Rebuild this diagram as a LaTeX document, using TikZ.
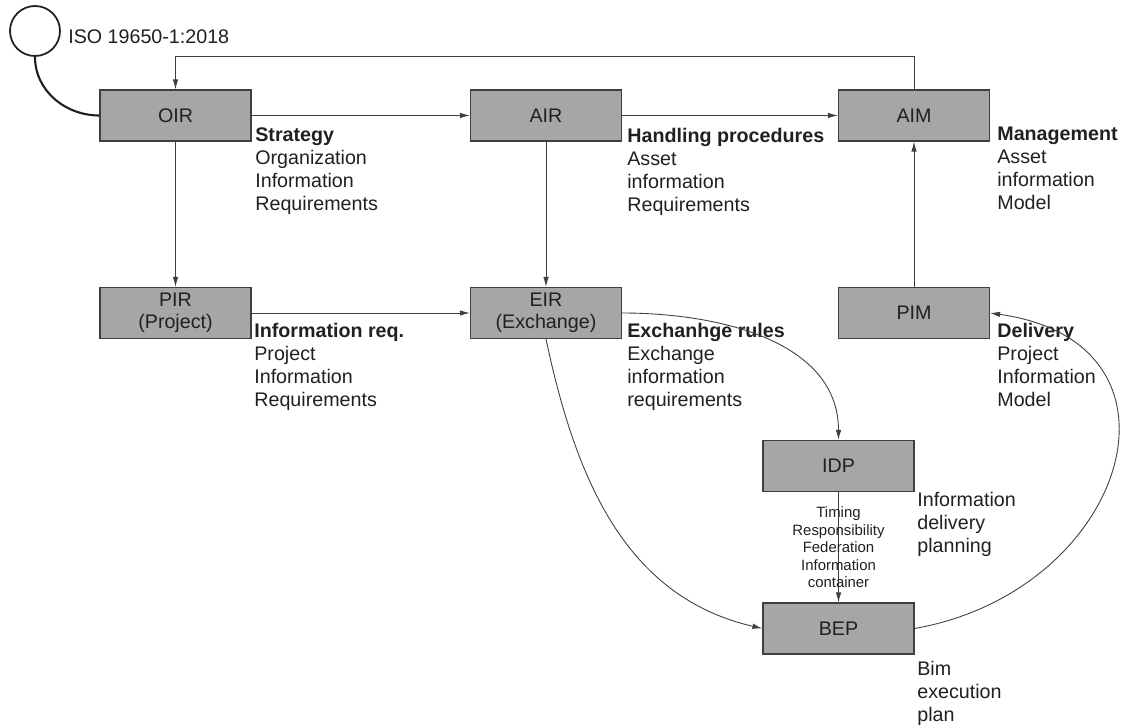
\documentclass[tikz,border=0pt]{standalone}
\usepackage{fontspec}
\setmainfont{Liberation Sans}
\usepackage{tikz}
\usetikzlibrary{arrows.meta, positioning}
\usepackage{xcolor}
\definecolor{boxgray}{HTML}{A6A6A6}
\definecolor{edge}{HTML}{3F3F3F}
\definecolor{ink}{HTML}{231F20}

\begin{document}
\begin{tikzpicture}[
    box/.style={draw=edge, line width=0.7pt, fill=boxgray, minimum width=3.02cm, minimum height=1.02cm, inner sep=0pt, align=center, font=\fontsize{11.2}{12.5}\selectfont, text=ink},
    arrow/.style={-{Latex[length=2mm,width=1.1mm]}, line width=0.5pt, draw=edge},
    lbl/.style={anchor=north west, inner sep=0pt, align=left, font=\fontsize{11.2}{13.1}\selectfont, text=ink},
    tinylbl/.style={inner sep=0pt, align=center, font=\fontsize{8.5}{10}\selectfont, text=ink}
]
    \useasboundingbox (0,0) rectangle (22.54,-14.5);

    % standard marker
    \node[draw=ink, line width=1pt, circle, minimum size=1cm, inner sep=0pt] (iso) at (0.7,-0.62) {};
    \node[anchor=west, inner sep=0pt, font=\fontsize{11.2}{13}\selectfont, text=ink] (isotxt) at (1.36,-0.74) {ISO 19650-1:2018};

    \node[box] (oir) at (3.51,-2.31) {OIR};
    \node[box] (air) at (10.92,-2.31) {AIR};
    \node[box] (aim) at (18.28,-2.31) {AIM};
    \node[box] (pir) at (3.51,-6.26) {PIR\\(Project)};
    \node[box] (eir) at (10.92,-6.26) {EIR\\(Exchange)};
    \node[box] (pim) at (18.28,-6.26) {PIM};
    \node[box] (idp) at (16.77,-9.32) {IDP};
    \node[box] (bep) at (16.77,-12.57) {BEP};

    \node[lbl] at (5.10,-2.55) {\textbf{Strategy}\\Organization\\Information\\Requirements};
    \node[lbl] at (12.54,-2.55) {\textbf{Handling procedures}\\Asset\\information\\Requirements};
    \node[lbl] at (19.94,-2.53) {\textbf{Management}\\Asset\\information\\Model};
    \node[lbl] at (5.08,-6.45) {\textbf{Information req.}\\Project\\Information\\Requirements};
    \node[lbl] at (12.54,-6.45) {\textbf{Exchanhge rules}\\Exchange\\information\\requirements};
    \node[lbl] at (19.94,-6.45) {\textbf{Delivery}\\Project\\Information\\Model};
    \node[lbl] at (18.34,-9.83) {Information\\delivery\\planning};
    \node[lbl] at (18.34,-13.21) {Bim\\execution\\plan};

    \draw[draw=ink, line width=1.2pt] (iso.south) to[out=-90, in=180] (oir.west);

    \draw[arrow] (oir) -- (air);
    \draw[arrow] (air) -- (aim);
    \draw[arrow] (oir) -- (pir);
    \draw[arrow] (air) -- (eir);
    \draw[arrow] (pir) -- (eir);
    \draw[arrow] (pim) -- (aim);
    \draw[arrow] (aim.north) -- ++(0,0.66) -| (oir.north);

    \draw[arrow] (eir.east) to[out=0, in=90] (idp.north);
    \draw[arrow] (eir.south) to[out=-78, in=167] (bep.west);
    \draw[arrow] (idp) -- node[tinylbl] {Timing\\Responsibility\\Federation\\Information\\container} (bep);
    \draw[arrow] (bep.east) to[out=10, in=-8, looseness=1.7] (pim.east);
\end{tikzpicture}
\end{document}
